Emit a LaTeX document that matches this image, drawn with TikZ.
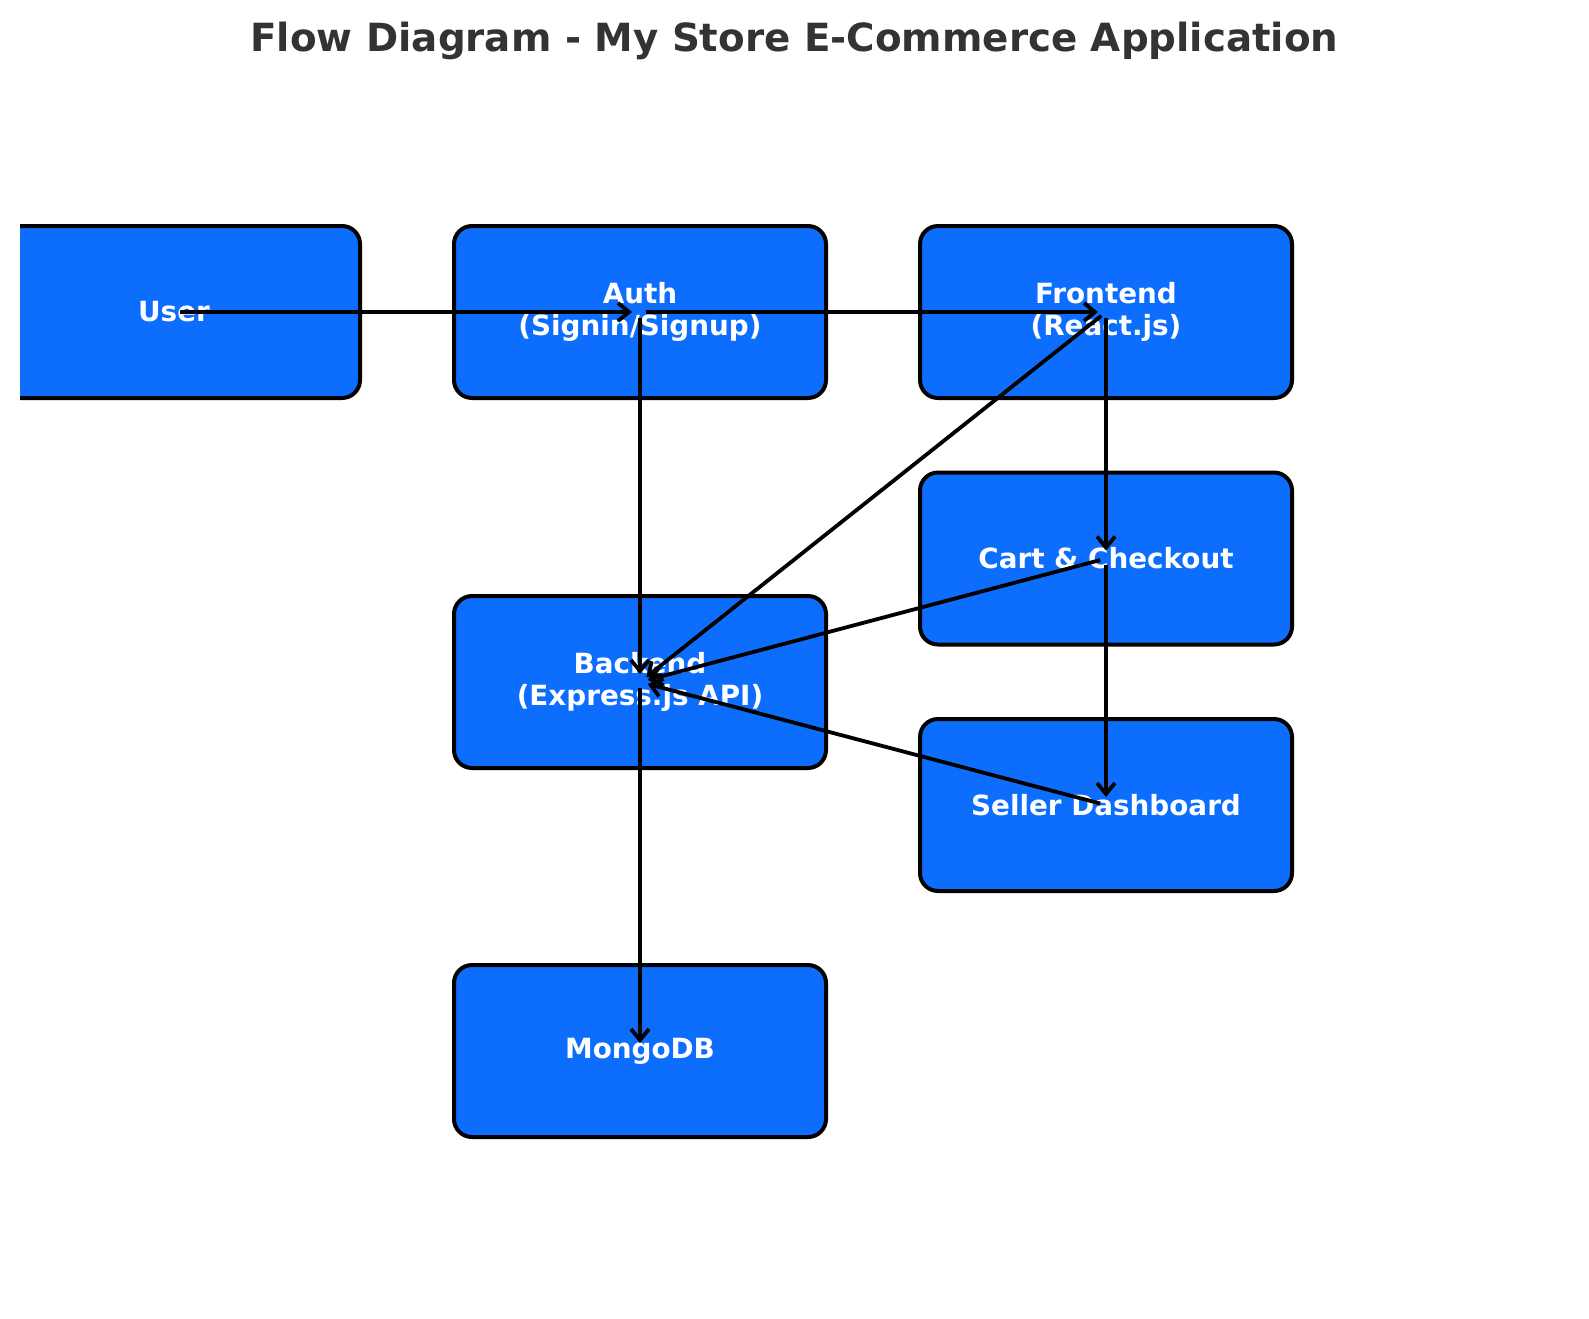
\documentclass[tikz,border=0pt]{standalone}
\usepackage{fontspec}
\setmainfont{DejaVu Sans}
\usetikzlibrary{positioning,arrows.meta}
\definecolor{boxblue}{RGB}{13,110,253}
\definecolor{titlegray}{RGB}{51,51,51}

\begin{document}
\begin{tikzpicture}[box/.style={rectangle,draw,line width=2pt,rounded corners=9pt,fill=boxblue,text=white,font=\fontsize{13.9}{15.6}\selectfont\bfseries,align=center,minimum width=186pt,minimum height=86pt,outer sep=0pt},
flow/.style={line width=1.9pt,-{Straight Barb[length=5.5pt,width=9pt]},shorten <=3pt,shorten >=4pt},node distance=47pt]

\useasboundingbox (0,0) rectangle (794.5pt,-659pt);
\clip (10pt,0) rectangle (794.5pt,-659pt);

\node[anchor=base,text=titlegray,font=\fontsize{19.4}{24}\selectfont\bfseries] (Title) at (397.25pt,-25.5pt) {Flow Diagram - My Store E-Commerce Application};

%%%%%%%%%%%%%%%%%%%%%% TOP ROW
\node[box] (User) at (87pt,-156pt) {User};
\node[box,right=of User] (Auth) {Auth\\(Signin/Signup)};
\node[box,right=of Auth] (Front) {Frontend\\(React.js)};

%%%%%%%%%%%%%%%%%%%%%% RIGHT COLUMN
\node[box,below=37.25pt of Front] (Cart) {Cart \& Checkout};
\node[box,below=37.25pt of Cart] (Seller) {Seller Dashboard};

%%%%%%%%%%%%%%%%%%%%%% MIDDLE COLUMN
\node[box,below=99pt of Auth] (Back) {Backend\\(Express.js API)};
\node[box,below=98.5pt of Back] (Mongo) {MongoDB};

\draw[flow] (User.center) -- (Auth.center);
\draw[flow] (Auth.center) -- (Front.center);
\draw[flow] (Auth.center) -- (Back.center);
\draw[flow] (Front.center) -- (Back.center);
\draw[flow] (Front.center) -- (Cart.center);
\draw[flow] (Cart.center) -- (Back.center);
\draw[flow] (Cart.center) -- (Seller.center);
\draw[flow] (Seller.center) -- (Back.center);
\draw[flow] (Back.center) -- (Mongo.center);

\end{tikzpicture}
\end{document}
